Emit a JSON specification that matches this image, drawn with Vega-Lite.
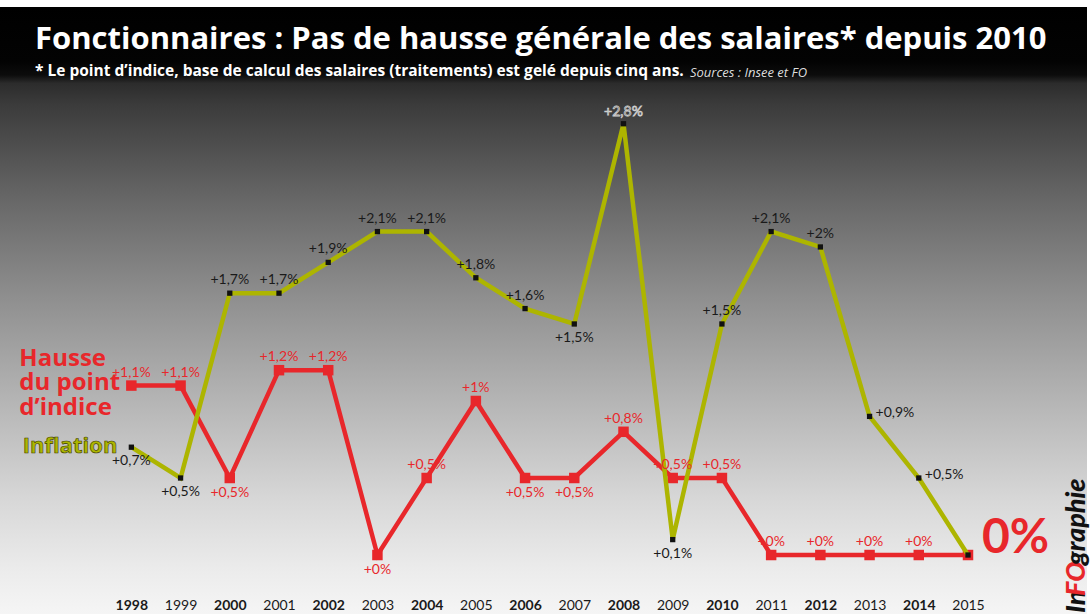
{
  "$schema": "https://vega.github.io/schema/vega-lite/v6.json",
  "width": 1090,
  "height": 614,
  "autosize": {"type": "fit", "contains": "padding"},
  "padding": {"top": 7, "left": 0, "right": 0, "bottom": 0},
  "background": "#ffffff",
  "config": {
    "font": "Lato",
    "locale": {"number": {"decimal": ",", "thousands": " ", "grouping": [3], "currency": ["", " €"]}},
    "view": {
      "stroke": null,
      "fill": {
        "gradient": "linear", "x1": 0, "y1": 0, "x2": 0, "y2": 1,
        "stops": [
          {"offset": 0, "color": "#000000"},
          {"offset": 0.09, "color": "#030303"},
          {"offset": 0.112, "color": "#0c0c0c"},
          {"offset": 0.126, "color": "#2c2c2c"},
          {"offset": 0.16, "color": "#3b3b3b"},
          {"offset": 0.32, "color": "#686868"},
          {"offset": 0.48, "color": "#8f8f8f"},
          {"offset": 0.65, "color": "#b5b5b5"},
          {"offset": 0.81, "color": "#d7d7d7"},
          {"offset": 0.93, "color": "#ececec"},
          {"offset": 1, "color": "#f5f5f5"}
        ]
      }
    }
  },
  "title": {
    "text": "Fonctionnaires : Pas de hausse générale des salaires* depuis 2010",
    "subtitle": "* Le point d’indice, base de calcul des salaires (traitements) est gelé depuis cinq ans.",
    "anchor": "start",
    "frame": "group",
    "offset": -73,
    "dx": 35,
    "color": "#ffffff",
    "subtitleColor": "#ffffff",
    "font": "Open Sans",
    "fontSize": 31,
    "fontWeight": "bold",
    "subtitleFont": "Open Sans",
    "subtitleFontSize": 15.5,
    "subtitleFontWeight": "bold",
    "subtitlePadding": 8
  },
  "data": {
    "values": [
      {"serie": "Hausse du point d’indice", "year": 1998, "v": 1.1},
      {"serie": "Hausse du point d’indice", "year": 1999, "v": 1.1},
      {"serie": "Hausse du point d’indice", "year": 2000, "v": 0.5},
      {"serie": "Hausse du point d’indice", "year": 2001, "v": 1.2},
      {"serie": "Hausse du point d’indice", "year": 2002, "v": 1.2},
      {"serie": "Hausse du point d’indice", "year": 2003, "v": 0},
      {"serie": "Hausse du point d’indice", "year": 2004, "v": 0.5},
      {"serie": "Hausse du point d’indice", "year": 2005, "v": 1.0},
      {"serie": "Hausse du point d’indice", "year": 2006, "v": 0.5},
      {"serie": "Hausse du point d’indice", "year": 2007, "v": 0.5},
      {"serie": "Hausse du point d’indice", "year": 2008, "v": 0.8},
      {"serie": "Hausse du point d’indice", "year": 2009, "v": 0.5},
      {"serie": "Hausse du point d’indice", "year": 2010, "v": 0.5},
      {"serie": "Hausse du point d’indice", "year": 2011, "v": 0},
      {"serie": "Hausse du point d’indice", "year": 2012, "v": 0},
      {"serie": "Hausse du point d’indice", "year": 2013, "v": 0},
      {"serie": "Hausse du point d’indice", "year": 2014, "v": 0},
      {"serie": "Hausse du point d’indice", "year": 2015, "v": 0},
      {"serie": "Inflation", "year": 1998, "v": 0.7},
      {"serie": "Inflation", "year": 1999, "v": 0.5},
      {"serie": "Inflation", "year": 2000, "v": 1.7},
      {"serie": "Inflation", "year": 2001, "v": 1.7},
      {"serie": "Inflation", "year": 2002, "v": 1.9},
      {"serie": "Inflation", "year": 2003, "v": 2.1},
      {"serie": "Inflation", "year": 2004, "v": 2.1},
      {"serie": "Inflation", "year": 2005, "v": 1.8},
      {"serie": "Inflation", "year": 2006, "v": 1.6},
      {"serie": "Inflation", "year": 2007, "v": 1.5},
      {"serie": "Inflation", "year": 2008, "v": 2.8},
      {"serie": "Inflation", "year": 2009, "v": 0.1},
      {"serie": "Inflation", "year": 2010, "v": 1.5},
      {"serie": "Inflation", "year": 2011, "v": 2.1},
      {"serie": "Inflation", "year": 2012, "v": 2.0},
      {"serie": "Inflation", "year": 2013, "v": 0.9},
      {"serie": "Inflation", "year": 2014, "v": 0.5},
      {"serie": "Inflation", "year": 2015, "v": 0}
    ]
  },
  "transform": [{"calculate": "datum.v / 100", "as": "pct"}],
  "encoding": {
    "x": {
      "field": "year", "type": "quantitative",
      "scale": {"domain": [1995.331, 2017.418], "nice": false, "zero": false},
      "axis": {
        "values": [1998, 1999, 2000, 2001, 2002, 2003, 2004, 2005, 2006, 2007, 2008, 2009, 2010, 2011, 2012, 2013, 2014, 2015],
        "format": "d", "orient": "bottom", "offset": -16, "domain": false, "ticks": false, "grid": false,
        "labelPadding": 0, "labelFontSize": 14, "labelColor": "#1a1a1a", "labelFont": "Lato",
        "labelFontWeight": {"expr": "datum.value % 2 === 0 ? 'bold' : 'normal'"},
        "labelFlush": false, "labelOverlap": false, "title": null
      }
    },
    "y": {
      "field": "v", "type": "quantitative",
      "scale": {"domain": [-0.383, 3.558], "nice": false, "zero": false},
      "axis": null
    }
  },
  "layer": [
    {
      "transform": [{"filter": "datum.serie !== 'Inflation'"}],
      "mark": {"type": "line", "color": "#e8272b", "strokeWidth": 4.5, "strokeJoin": "miter"}
    },
    {
      "transform": [{"filter": "datum.serie !== 'Inflation'"}],
      "mark": {"type": "square", "color": "#e8272b", "size": 110, "filled": true, "opacity": 1}
    },
    {
      "transform": [{"filter": "datum.serie === 'Inflation'"}],
      "mark": {"type": "line", "color": "#adb500", "strokeWidth": 4.5, "strokeJoin": "miter"}
    },
    {
      "transform": [{"filter": "datum.serie === 'Inflation'"}],
      "mark": {"type": "square", "color": "#111111", "size": 28, "filled": true, "opacity": 1}
    },
    {
      "transform": [{"filter": {"and": [{"field": "serie", "equal": "Inflation"}, {"field": "year", "oneOf": [2000, 2001, 2002, 2003, 2004, 2005, 2006, 2010, 2011, 2012]}]}}],
      "mark": {"type": "text", "dy": -13, "fontSize": 14, "color": "#1a1a1a", "fontWeight": "normal", "baseline": "middle"},
      "encoding": {"text": {"field": "pct", "format": "+.1~%"}}
    },
    {
      "transform": [{"filter": {"and": [{"field": "serie", "equal": "Inflation"}, {"field": "year", "oneOf": [1998, 1999, 2007, 2009]}]}}],
      "mark": {"type": "text", "dy": 14, "fontSize": 14, "color": "#1a1a1a", "baseline": "middle"},
      "encoding": {"text": {"field": "pct", "format": "+.1~%"}}
    },
    {
      "transform": [{"filter": {"and": [{"field": "serie", "equal": "Inflation"}, {"field": "year", "oneOf": [2013, 2014]}]}}],
      "mark": {"type": "text", "dx": 6, "dy": -3, "align": "left", "fontSize": 14, "color": "#1a1a1a", "baseline": "middle"},
      "encoding": {"text": {"field": "pct", "format": "+.1~%"}}
    },
    {
      "transform": [{"filter": {"and": [{"field": "serie", "equal": "Inflation"}, {"field": "year", "equal": 2008}]}}],
      "mark": {"type": "text", "dy": -12, "fontSize": 14, "fill": "#3a3a3a", "stroke": "#cfcfcf", "strokeWidth": 0.8, "baseline": "middle"},
      "encoding": {"text": {"field": "pct", "format": "+.1~%"}}
    },
    {
      "transform": [{"filter": {"and": [{"field": "serie", "equal": "Hausse du point d’indice"}, {"field": "year", "oneOf": [1998, 1999, 2001, 2002, 2004, 2005, 2008, 2009, 2010, 2011, 2012, 2013, 2014]}]}}],
      "mark": {"type": "text", "dy": -13, "fontSize": 14, "color": "#e8272b", "baseline": "middle"},
      "encoding": {"text": {"field": "pct", "format": "+.1~%"}}
    },
    {
      "transform": [{"filter": {"and": [{"field": "serie", "equal": "Hausse du point d’indice"}, {"field": "year", "oneOf": [2000, 2003, 2006, 2007]}]}}],
      "mark": {"type": "text", "dy": 15, "fontSize": 14, "color": "#e8272b", "baseline": "middle"},
      "encoding": {"text": {"field": "pct", "format": "+.1~%"}}
    },
    {
      "transform": [{"filter": {"and": [{"field": "serie", "equal": "Hausse du point d’indice"}, {"field": "year", "equal": 1998}]}}],
      "mark": {"type": "text", "text": ["Hausse", "du point", "d’indice"], "align": "left", "baseline": "middle", "dx": -112, "dy": -27, "fontSize": 24, "font": "Open Sans", "fontWeight": "bold", "lineHeight": 24.5, "color": "#e8272b"}
    },
    {
      "transform": [{"filter": {"and": [{"field": "serie", "equal": "Inflation"}, {"field": "year", "equal": 1998}]}}],
      "mark": {"type": "text", "align": "right", "baseline": "middle", "dx": -14, "dy": -1, "fontSize": 22, "font": "Open Sans", "fontWeight": "bold", "fill": "#adb500", "stroke": "#3a3a00", "strokeWidth": 0.6},
      "encoding": {"text": {"field": "serie"}}
    },
    {
      "transform": [{"filter": {"and": [{"field": "serie", "equal": "Hausse du point d’indice"}, {"field": "year", "equal": 2015}]}}],
      "mark": {"type": "text", "align": "left", "baseline": "alphabetic", "dx": 14, "dy": -2, "fontSize": 48, "fontWeight": "bold", "color": "#e8272b"},
      "encoding": {"text": {"field": "pct", "format": ".0%"}}
    },
    {
      "transform": [{"filter": {"and": [{"field": "serie", "equal": "Hausse du point d’indice"}, {"field": "year", "equal": 2015}]}}],
      "mark": {"type": "text", "text": "In", "angle": 270, "align": "left", "baseline": "alphabetic", "dx": 1, "dy": 117, "fontSize": 27, "fontWeight": 900, "fontStyle": "italic", "color": "#111111"},
      "encoding": {"y": {"datum": -0.383}}
    },
    {
      "transform": [{"filter": {"and": [{"field": "serie", "equal": "Hausse du point d’indice"}, {"field": "year", "equal": 2015}]}}],
      "mark": {"type": "text", "text": "FO", "angle": 270, "align": "left", "baseline": "alphabetic", "dx": 18, "dy": 117, "fontSize": 27, "fontWeight": 900, "fontStyle": "italic", "color": "#e8272b"},
      "encoding": {"y": {"datum": -0.383}}
    },
    {
      "transform": [{"filter": {"and": [{"field": "serie", "equal": "Hausse du point d’indice"}, {"field": "year", "equal": 2015}]}}],
      "mark": {"type": "text", "text": "graphie", "angle": 270, "align": "left", "baseline": "alphabetic", "dx": 49, "dy": 117, "fontSize": 27, "fontWeight": 900, "fontStyle": "italic", "color": "#111111"},
      "encoding": {"y": {"datum": -0.383}}
    },
    {
      "transform": [{"filter": {"and": [{"field": "serie", "equal": "Hausse du point d’indice"}, {"field": "year", "equal": 2015}]}}],
      "mark": {"type": "text", "text": "Sources : Insee et FO", "align": "left", "baseline": "middle", "fontSize": 13, "font": "Open Sans", "fontStyle": "italic", "color": "#dddddd"},
      "encoding": {
        "x": {"datum": 2009.35},
        "y": {"datum": 3.13}
      }
    }
  ]
}
